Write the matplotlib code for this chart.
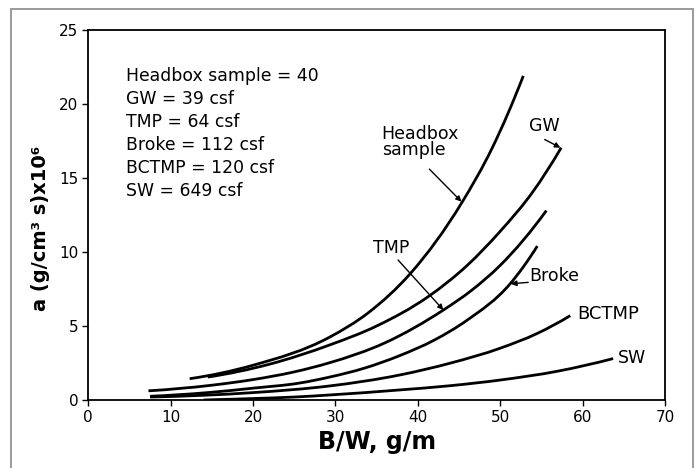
import matplotlib
matplotlib.use("Agg")
import matplotlib.pyplot as plt
from matplotlib.patches import Rectangle, PathPatch
from matplotlib.path import Path

plt.rcParams['font.family'] = ['DejaVu Sans']

# ---- data ----
headbox_x = [12.3, 20, 29.3, 34, 39.1, 45.3, 49, 52.8]
headbox_y = [1.44, 2.35, 4.25, 5.9, 8.55, 13.3, 17.0, 21.9]

gw_x = [14.5, 22, 29.3, 35, 41.3, 46, 50, 54, 57.4]
gw_y = [1.55, 2.42, 3.72, 5.0, 7.0, 9.1, 11.4, 14.1, 17.05]

tmp_x = [7.3, 15, 20, 25, 29.3, 36, 43.1, 46.5, 50, 55.6]
tmp_y = [0.62, 1.0, 1.38, 1.9, 2.52, 3.86, 6.08, 7.4, 9.1, 12.8]

broke_x = [7.5, 14.5, 20, 25.7, 29.3, 33.5, 37.8, 42, 46, 51.2, 54.5]
broke_y = [0.25, 0.5, 0.8, 1.15, 1.55, 2.15, 3.0, 4.05, 5.4, 7.85, 10.4]

bctmp_x = [7.5, 14, 20, 29.3, 37.8, 44, 50, 54.5, 58.5]
bctmp_y = [0.2, 0.32, 0.5, 0.95, 1.69, 2.5, 3.5, 4.5, 5.7]

sw_x = [14, 20, 25, 29.3, 37.8, 44, 50, 57, 63.7]
sw_y = [0.0, 0.1, 0.2, 0.34, 0.68, 0.97, 1.35, 1.95, 2.8]

info_lines = ["Headbox sample = 40", "GW = 39 csf", "TMP = 64 csf",
              "Broke = 112 csf", "BCTMP = 120 csf", "SW = 649 csf"]

x_ticks = [0, 10, 20, 30, 40, 50, 60, 70]
y_ticks = [0, 5, 10, 15, 20, 25]


def smooth_path(xs, ys):
    """Cubic Hermite curve through the data points (Bezier segments)."""
    n = len(xs)
    h = [xs[i + 1] - xs[i] for i in range(n - 1)]
    d = [(ys[i + 1] - ys[i]) / h[i] for i in range(n - 1)]
    m = [0.0] * n
    for i in range(1, n - 1):
        m[i] = (d[i - 1] * h[i] + d[i] * h[i - 1]) / (h[i - 1] + h[i])
    m[0] = 2 * d[0] - m[1] if n > 2 else d[0]
    m[-1] = 2 * d[-1] - m[-2] if n > 2 else d[-1]
    verts = [(xs[0], ys[0])]
    codes = [Path.MOVETO]
    for i in range(n - 1):
        t = h[i] / 3.0
        verts += [(xs[i] + t, ys[i] + m[i] * t),
                  (xs[i + 1] - t, ys[i + 1] - m[i + 1] * t),
                  (xs[i + 1], ys[i + 1])]
        codes += [Path.CURVE4] * 3
    return Path(verts, codes)


# ---- figure ----
fig = plt.figure(figsize=(6.97, 4.68), dpi=100)
fig.patches.append(Rectangle((11/697, -0.2), (693-11)/697, 1.2 - 9/468,
                             transform=fig.transFigure, fill=False,
                             edgecolor='#8a8a8a', linewidth=1.2))
ax = fig.add_axes([88.3/697, 1-400/468, (665-88.3)/697, (400-30)/468])

for xs, ys in [(headbox_x, headbox_y), (gw_x, gw_y), (tmp_x, tmp_y),
               (broke_x, broke_y), (bctmp_x, bctmp_y), (sw_x, sw_y)]:
    ax.add_patch(PathPatch(smooth_path(xs, ys), fill=False, edgecolor='black',
                           lw=2.0, capstyle='butt'))

ax.set_xlim(0, 70)
ax.set_ylim(0, 25)
ax.set_xticks(x_ticks)
ax.set_yticks(y_ticks)
ax.tick_params(direction='out', length=4, width=1, labelsize=11, pad=3)
for s in ax.spines.values():
    s.set_linewidth(1.3)

ax.set_xlabel("B/W, g/m", fontsize=17, fontweight='bold', labelpad=4)
ax.set_ylabel("a (g/cm³ s)x10⁶", fontsize=14, fontweight='bold')
ax.yaxis.set_label_coords(-0.066, 0.465)

# info text block
for i, line in enumerate(info_lines):
    ax.text(4.6, 21.9 - i * 1.56, line, fontsize=12.4, ha='left', va='center')

arrow = dict(arrowstyle='-|>', color='black', lw=1.0, mutation_scale=8,
             shrinkA=0, shrinkB=0)

lab = 12.5
ax.text(35.6, 18.6, "Headbox\nsample", fontsize=lab, ha='left', va='top',
        linespacing=0.9)
ax.annotate("", xy=(45.3, 13.4), xytext=(41.4, 15.6), arrowprops=arrow)

ax.text(55.3, 18.5, "GW", fontsize=lab, ha='center', va='center')
ax.annotate("", xy=(57.3, 17.05), xytext=(55.4, 17.6), arrowprops=arrow)

ax.text(36.8, 10.25, "TMP", fontsize=lab, ha='center', va='center')
ax.annotate("", xy=(43.1, 6.08), xytext=(37.6, 9.46), arrowprops=arrow)

ax.text(56.6, 8.4, "Broke", fontsize=lab, ha='center', va='center')
ax.annotate("", xy=(51.3, 7.85), xytext=(53.4, 7.95), arrowprops=arrow)

ax.text(59.4, 5.8, "BCTMP", fontsize=13, ha='left', va='center')
ax.text(64.3, 2.87, "SW", fontsize=lab, ha='left', va='center')

fig.savefig("out.png", dpi=100)
